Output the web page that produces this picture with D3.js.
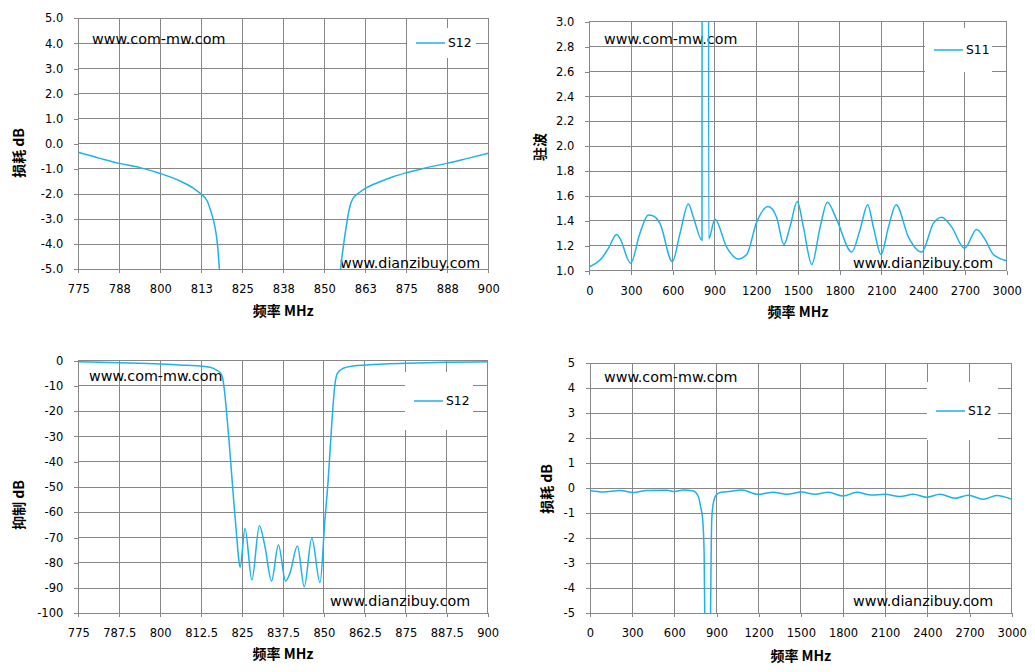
<!DOCTYPE html>
<html>
<head>
<meta charset="utf-8">
<script src="https://cdnjs.cloudflare.com/ajax/libs/d3/7.8.5/d3.min.js"></script>
<style>
  body { margin: 0; background: #ffffff; }
  .tick text { font-family: "DejaVu Sans", sans-serif; font-size: 11.5px; fill: #000; }
  .tick line { stroke: #878787; }
  .grid { stroke: #878787; stroke-width: 1; shape-rendering: crispEdges; }
  .title { font-family: "Noto Sans CJK SC", sans-serif; font-size: 14px; font-weight: bold; fill: #000; }
  .mark { font-family: "DejaVu Sans", sans-serif; font-size: 14.3px; fill: #000; }
  .legend-text { font-family: "DejaVu Sans", sans-serif; font-size: 12.3px; fill: #000; }
</style>
</head>
<body>
<script>
var svgWidth = 1035;
var svgHeight = 672;
var lineColor = "#1cb2ea";

// chart 1: S12 loss, narrow span
var lossFreq = [775, 781.6, 787.5, 793.8, 799.9, 806, 810.1, 812.4, 814.3, 815.3, 816.2, 817, 817.5, 818.0, 818.6,
    836.5, 854.4, 855, 855.8, 856.8, 857.8, 858.6, 860.4, 862.9, 867, 871, 875.1, 880.2, 887.3, 893.4, 900];
var lossDb = [-0.34, -0.58, -0.78, -0.95, -1.18, -1.48, -1.77, -2.0, -2.28, -2.64, -3.04, -3.57, -4.1, -4.96, -6,
    -60, -6, -4.96, -4.1, -3.2, -2.5, -2.21, -1.97, -1.75, -1.51, -1.31, -1.15, -0.98, -0.78, -0.59, -0.38];

// chart 2: S11 vswr, wide span
var vswrFreq = [0, 89, 137, 197, 220, 297, 364, 424, 460, 508, 597, 652, 712, 748, 810, 813, 853, 858,
    903, 987, 1071, 1131, 1203, 1285, 1346, 1399, 1442, 1495, 1539, 1599, 1659, 1711, 1778, 1886, 1946,
    2001, 2042, 2097, 2150, 2205, 2294, 2389, 2473, 2533, 2605, 2696, 2784, 2845, 2904, 3000];
var vswrVal = [1.032, 1.10, 1.18, 1.29, 1.26, 1.06, 1.30, 1.447, 1.44, 1.38, 1.072, 1.30, 1.536, 1.43, 1.245, 12, 12, 1.255,
    1.413, 1.19, 1.094, 1.13, 1.39, 1.515, 1.43, 1.21, 1.35, 1.555, 1.35, 1.05, 1.35, 1.55, 1.41, 1.15, 1.33,
    1.53, 1.35, 1.13, 1.35, 1.53, 1.27, 1.15, 1.38, 1.43, 1.35, 1.18, 1.33, 1.25, 1.13, 1.08];

// chart 3: S12 rejection, narrow span
var rejFreq = [775, 787.5, 800, 806, 812.2, 815.2, 817.2, 818.5, 819.1, 819.6, 820.3, 821, 821.8, 822.6, 823.2, 823.8,
    824.4, 825.9, 828.0, 830.3, 832, 834.0, 836.1, 838.3, 839.6, 841.9, 844.0, 846.3, 848.8, 850.3,
    851.3, 852.4, 853.4, 854.1, 855.9, 859, 863, 875.3, 887.5, 900];
var rejDb = [-0.4, -0.8, -1.3, -1.7, -2.1, -2.6, -3.7, -5, -7, -11.6, -20.8, -31.4, -44.6, -57.8, -67, -76.2,
    -81.8, -66.4, -86.8, -65.3, -73.6, -87.2, -73, -87.2, -84.2, -73.4, -89.5, -70.3, -87.9, -63,
    -47.2, -24.8, -9, -5, -3.0, -2.1, -1.7, -1.05, -0.66, -0.4];

// chart 4: S12 loss, wide span
var wideFreq = [0, 95, 213, 308, 403, 545, 605, 664, 735, 770, 787, 802, 812, 818, 837, 856, 862, 866, 877, 901,
    940, 990, 1079, 1197, 1304, 1399, 1506, 1601, 1696, 1802, 1897, 2004, 2099, 2205, 2300, 2395, 2490,
    2597, 2691, 2798, 2893, 3000];
var wideDb = [-0.09, -0.15, -0.09, -0.17, -0.09, -0.08, -0.13, -0.07, -0.11, -0.33, -0.73, -1.27, -2.6, -6, -40, -6, -2.6, -1.27, -0.6, -0.25,
    -0.15, -0.13, -0.07, -0.24, -0.16, -0.24, -0.15, -0.24, -0.16, -0.31, -0.16, -0.27, -0.24, -0.33, -0.24, -0.36, -0.24,
    -0.4, -0.28, -0.44, -0.29, -0.44];

// tick values and labels
var narrowTicks = [775, 787.5, 800, 812.5, 825, 837.5, 850, 862.5, 875, 887.5, 900];
var narrowLabelsShort = ["775", "788", "800", "813", "825", "838", "850", "863", "875", "888", "900"];
var narrowLabelsLong = ["775", "787.5", "800", "812.5", "825", "837.5", "850", "862.5", "875", "887.5", "900"];
var wideTicks = [0, 300, 600, 900, 1200, 1500, 1800, 2100, 2400, 2700, 3000];
var wideLabels = ["0", "300", "600", "900", "1200", "1500", "1800", "2100", "2400", "2700", "3000"];
var lossTicks = [5, 4, 3, 2, 1, 0, -1, -2, -3, -4, -5];
var lossLabelsDec = ["5.0", "4.0", "3.0", "2.0", "1.0", "0.0", "-1.0", "-2.0", "-3.0", "-4.0", "-5.0"];
var lossLabelsInt = ["5", "4", "3", "2", "1", "0", "-1", "-2", "-3", "-4", "-5"];
var vswrTicks = [1.0, 1.2, 1.4, 1.6, 1.8, 2.0, 2.2, 2.4, 2.6, 2.8, 3.0];
var vswrLabels = ["1.0", "1.2", "1.4", "1.6", "1.8", "2.0", "2.2", "2.4", "2.6", "2.8", "3.0"];
var rejTicks = [0, -10, -20, -30, -40, -50, -60, -70, -80, -90, -100];
var rejLabels = ["0", "-10", "-20", "-30", "-40", "-50", "-60", "-70", "-80", "-90", "-100"];

var svg = d3.select("body")
    .append("svg")
    .attr("width", svgWidth)
    .attr("height", svgHeight);

// panel layouts
var panels = [
    { left: 78.3, right: 488.3, top: 18.3, bottom: 269.3,
      freq: lossFreq, vals: lossDb, xTicks: narrowTicks, xLabels: narrowLabelsShort,
      yTicks: lossTicks, yLabels: lossLabelsDec,
      yTitle: "损耗 dB", yTitleX: 20, yTitleY: 153, xTitleY: 312,
      legend: { name: "S12", x: 407, y: 28, w: 69, h: 30 },
      mark1: [92, 44], mark2: [340, 268] },
    { left: 589.3, right: 1006.7, top: 21.7, bottom: 270.7,
      freq: vswrFreq, vals: vswrVal, xTicks: wideTicks, xLabels: wideLabels,
      yTicks: vswrTicks, yLabels: vswrLabels,
      yTitle: "驻波", yTitleX: 541.5, yTitleY: 147, xTitleY: 313.5,
      legend: { name: "S11", x: 925, y: 28, w: 67, h: 44 },
      mark1: [604, 44], mark2: [853, 268] },
    { left: 78.3, right: 487.7, top: 360.7, bottom: 613.3,
      freq: rejFreq, vals: rejDb, xTicks: narrowTicks, xLabels: narrowLabelsLong,
      yTicks: rejTicks, yLabels: rejLabels,
      yTitle: "抑制 dB", yTitleX: 20, yTitleY: 505, xTitleY: 655,
      legend: { name: "S12", x: 405, y: 372, w: 68, h: 58 },
      mark1: [89, 381], mark2: [330, 606] },
    { left: 590, right: 1011.7, top: 363.3, bottom: 613.3,
      freq: wideFreq, vals: wideDb, xTicks: wideTicks, xLabels: wideLabels,
      yTicks: lossTicks, yLabels: lossLabelsInt,
      yTitle: "损耗 dB", yTitleX: 548, yTitleY: 489, xTitleY: 657,
      legend: { name: "S12", x: 927, y: 382, w: 71, h: 58 },
      mark1: [604, 382], mark2: [853, 606] }
];

function drawPanel(p, i) {
    var xScale = d3.scaleLinear()
        .domain([d3.min(p.xTicks), d3.max(p.xTicks)])
        .range([p.left, p.right]);
    var yScale = d3.scaleLinear()
        .domain([d3.min(p.yTicks), d3.max(p.yTicks)])
        .range([p.bottom, p.top]);

    var g = svg.append("g");

    // grid lines
    g.selectAll(".vgrid").data(p.xTicks).enter()
        .append("line")
        .attr("class", "grid")
        .attr("x1", d => xScale(d)).attr("x2", d => xScale(d))
        .attr("y1", p.top).attr("y2", p.bottom);
    g.selectAll(".hgrid").data(p.yTicks).enter()
        .append("line")
        .attr("class", "grid")
        .attr("y1", d => yScale(d)).attr("y2", d => yScale(d))
        .attr("x1", p.left).attr("x2", p.right);

    // axes
    var bottomAxis = d3.axisBottom(xScale)
        .tickValues(p.xTicks)
        .tickFormat((d, k) => p.xLabels[k])
        .tickSizeInner(4).tickSizeOuter(0).tickPadding(12);
    var leftAxis = d3.axisLeft(yScale)
        .tickValues(p.yTicks)
        .tickFormat((d, k) => p.yLabels[k])
        .tickSizeInner(4).tickSizeOuter(0).tickPadding(11);

    g.append("g")
        .attr("transform", `translate(0, ${p.bottom})`)
        .call(bottomAxis)
        .call(a => a.select(".domain").remove())
        .selectAll("line").attr("shape-rendering", "crispEdges");
    g.append("g")
        .attr("transform", `translate(${p.left}, 0)`)
        .call(leftAxis)
        .call(a => a.select(".domain").remove())
        .selectAll("line").attr("shape-rendering", "crispEdges");

    // axis titles
    g.append("text")
        .attr("class", "title")
        .attr("x", (p.left + p.right) / 2)
        .attr("y", p.xTitleY)
        .attr("text-anchor", "middle")
        .attr("dominant-baseline", "middle")
        .text("频率 MHz");
    g.append("text")
        .attr("class", "title")
        .attr("transform", `translate(${p.yTitleX}, ${p.yTitleY}) rotate(-90)`)
        .attr("text-anchor", "middle")
        .attr("dominant-baseline", "middle")
        .text(p.yTitle);

    // watermarks
    g.append("text").attr("class", "mark")
        .attr("x", p.mark1[0]).attr("y", p.mark1[1])
        .text("www.com-mw.com");
    g.append("text").attr("class", "mark")
        .attr("x", p.mark2[0]).attr("y", p.mark2[1])
        .text("www.dianzibuy.com");

    // clip the curve to the plot area
    svg.append("clipPath")
        .attr("id", "clip" + i)
        .append("rect")
        .attr("x", p.left).attr("y", p.top)
        .attr("width", p.right - p.left).attr("height", p.bottom - p.top);

    var line = d3.line()
        .x(k => xScale(p.freq[k]))
        .y(k => yScale(p.vals[k]))
        .curve(d3.curveMonotoneX);

    g.append("path")
        .datum(d3.range(p.freq.length))
        .attr("clip-path", `url(#clip${i})`)
        .attr("fill", "none")
        .attr("stroke", lineColor)
        .attr("stroke-width", 1.5)
        .attr("d", line);

    // legend
    var lg = p.legend;
    g.append("rect")
        .attr("x", lg.x).attr("y", lg.y)
        .attr("width", lg.w).attr("height", lg.h)
        .attr("fill", "#ffffff");
    var cy = lg.y + lg.h / 2;
    g.append("line")
        .attr("x1", lg.x + 9).attr("x2", lg.x + 38)
        .attr("y1", cy).attr("y2", cy)
        .attr("stroke", lineColor)
        .attr("stroke-width", 1.5);
    g.append("text")
        .attr("class", "legend-text")
        .attr("x", lg.x + 41)
        .attr("y", cy)
        .attr("dominant-baseline", "middle")
        .text(lg.name);
}

panels.forEach(drawPanel);
</script>
</body>
</html>
